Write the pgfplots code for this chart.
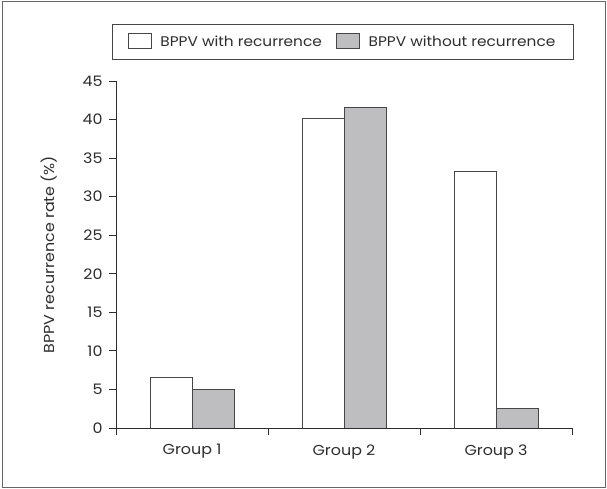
\documentclass[border=0pt]{standalone}
\usepackage{pgfplots}
\pgfplotsset{compat=1.18}
\usepackage{fontspec}
\setmainfont{Poppins}[FakeStretch=1.1]
\definecolor{txt}{RGB}{45,45,45}
\definecolor{barg}{RGB}{190,190,192}
\definecolor{edge}{RGB}{70,70,70}
\newcommand{\fs}{\fontsize{14.5}{17}\selectfont}
\begin{document}
\begin{tikzpicture}[x=1bp,y=1bp]
\path (0,0) rectangle (607,489);
\draw[gray!80!black, line width=0.8bp] (2,2) rectangle (605,488);
\draw[edge, line width=0.8bp] (112,430) rectangle (573,465);
\begin{axis}[
  at={(116bp,61bp)}, anchor=south west,
  scale only axis, width=456bp, height=347bp,
  xmin=0.5, xmax=3.5, ymin=0, ymax=45,
  axis lines=left, axis line style={-, txt, line width=0.8bp},
  ytick={0,5,...,45},
  xtick={1,2,3}, xticklabels={Group 1,Group 2,Group 3},
  minor xtick={0.5,1.5,2.5,3.5},
  major x tick style={draw=none},
  minor tick length=7bp, major tick length=7bp,
  tick align=outside,
  tick style={txt, line width=0.8bp},
  ticklabel style={font=\fs, text=txt},
  /pgf/number format/assume math mode=true,
  yticklabel style={xshift=-3bp},
  xticklabel style={yshift=-6bp},
  ylabel={BPPV recurrence rate (\%)},
  every axis y label/.style={at={(49bp-116bp,173.5bp)}, rotate=90, anchor=center, font=\fs, text=txt},
  ybar=0pt, bar width=42bp,
  legend style={at={(0.4967,1.1138)}, anchor=center, draw=none, fill=none,
    font=\fontsize{14}{16}\selectfont, text=txt,
    legend columns=2,
    /tikz/every odd column/.append style={column sep=7bp},
    /tikz/every even column/.append style={column sep=12bp}},
  legend image code/.code={\draw[#1] (0bp,-7bp) rectangle (23bp,8bp);},
]
\addplot[draw=edge, fill=white, line width=0.8bp] coordinates {(1,6.5) (2,40.1) (3,33.3)};
\addplot[draw=edge, fill=barg, line width=0.8bp] coordinates {(1,5.0) (2,41.6) (3,2.5)};
\legend{BPPV with recurrence, BPPV without recurrence}
\end{axis}
\end{tikzpicture}
\end{document}
